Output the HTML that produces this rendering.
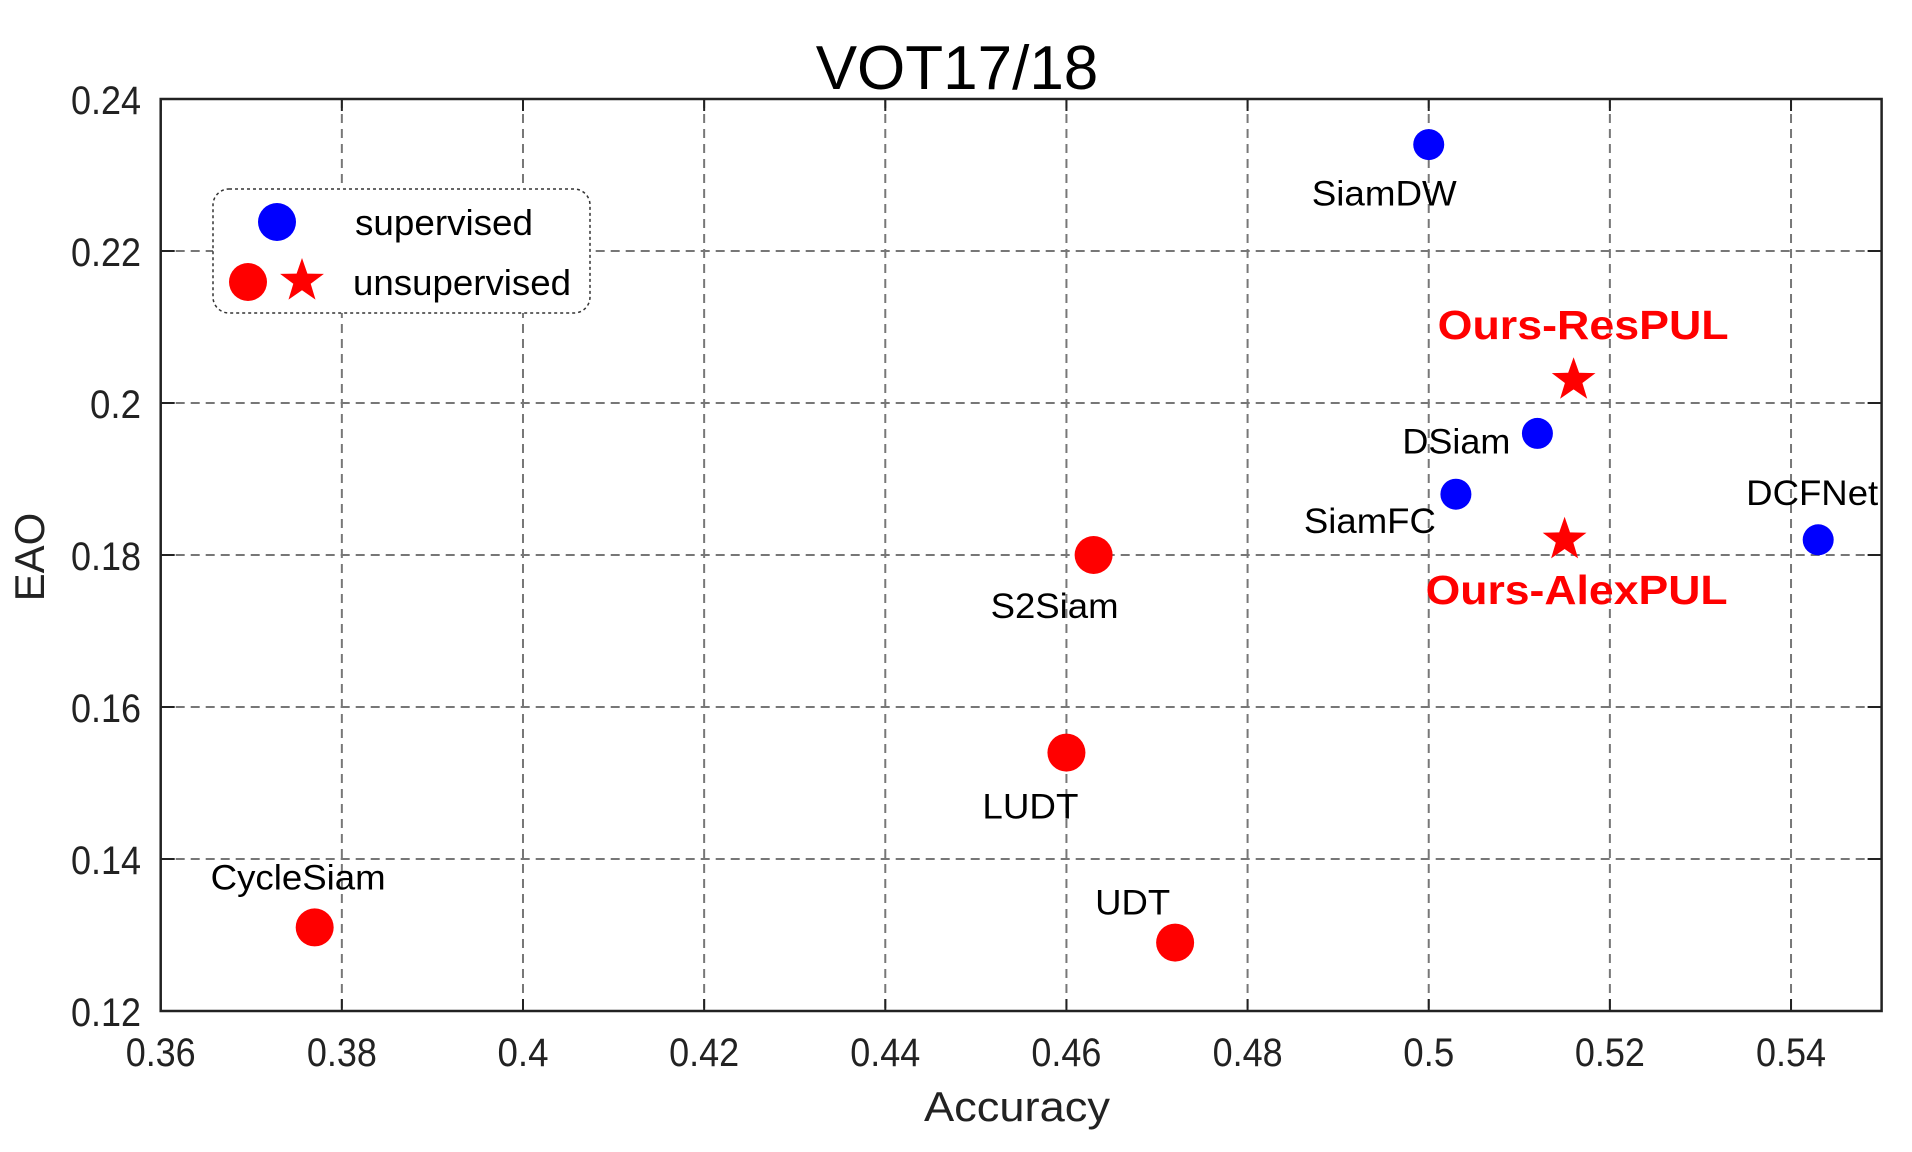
<!DOCTYPE html>
<html><head><meta charset="utf-8"><style>
html,body{margin:0;padding:0;background:#fff;}
svg{display:block;font-family:"Liberation Sans",Arial,sans-serif;}
</style></head><body>
<svg id="chart" width="1912" height="1152" viewBox="0 0 1912 1152" xmlns="http://www.w3.org/2000/svg">
<rect width="1912" height="1152" fill="#fff"/>
<g id="grid"></g>
<g id="axes"></g>
<g id="marks"></g>
<g id="labels"></g>
<text x="957" y="89" font-size="62" text-anchor="middle" fill="#000">VOT17/18</text>
<text x="1017" y="1121" font-size="42" text-anchor="middle" textLength="186" lengthAdjust="spacingAndGlyphs" fill="#222">Accuracy</text>
<text transform="translate(44,557) rotate(-90)" font-size="42" text-anchor="middle" fill="#222">EAO</text>
<g>
  <rect x="213" y="189" width="377" height="124" rx="16" fill="#fff" stroke="#333" stroke-width="1.5" stroke-dasharray="3,3"/>
  <ellipse cx="277" cy="222" rx="19" ry="19" fill="#0000ff"/>
  <text x="355" y="235" font-size="36" textLength="178" lengthAdjust="spacingAndGlyphs">supervised</text>
  <ellipse cx="248" cy="282" rx="19" ry="19" fill="#ff0000"/>
  <polygon id="legstar" fill="#ff0000"/>
  <text x="353" y="295" font-size="36" textLength="218" lengthAdjust="spacingAndGlyphs">unsupervised</text>
</g>
</svg>
<script>
const xTicks=[0.36,0.38,0.4,0.42,0.44,0.46,0.48,0.5,0.52,0.54];
const xTickLabels=["0.36","0.38","0.4","0.42","0.44","0.46","0.48","0.5","0.52","0.54"];
const yTicks=[0.12,0.14,0.16,0.18,0.2,0.22,0.24];
const yTickLabels=["0.12","0.14","0.16","0.18","0.2","0.22","0.24"];
const names=["SiamDW","DSiam","SiamFC","DCFNet","Ours-ResPUL","Ours-AlexPUL","S2Siam","LUDT","UDT","CycleSiam"];
const accuracy=[0.500,0.512,0.503,0.543,0.516,0.515,0.463,0.460,0.472,0.377];
const eao=[0.234,0.196,0.188,0.182,0.203,0.182,0.180,0.154,0.129,0.131];
const kinds=["sup","sup","sup","sup","star","star","unsup","unsup","unsup","unsup"];

const X0=160.7,X1=1881.6,Y0=1011,Y1=99;
const xMin=0.36,xMax=0.55,yMin=0.12,yMax=0.24;
function xs(v){return X0+(v-xMin)/(xMax-xMin)*(X1-X0);}
function ys(v){return Y0-(v-yMin)/(yMax-yMin)*(Y0-Y1);}
const NS="http://www.w3.org/2000/svg";
function mk(t,a,p){const e=document.createElementNS(NS,t);for(const k in a)e.setAttribute(k,a[k]);p.appendChild(e);return e;}
function starPts(cx,cy,R){const r=R*0.4;let s=[];for(let i=0;i<10;i++){const rr=i%2?r:R;const a=-Math.PI/2+i*Math.PI/5;s.push((cx+rr*Math.cos(a)).toFixed(1)+","+(cy+rr*Math.sin(a)).toFixed(1));}return s.join(" ");}
document.getElementById('legstar').setAttribute('points',starPts(302,281,23));

const grid=document.getElementById('grid'),axes=document.getElementById('axes'),marks=document.getElementById('marks'),labels=document.getElementById('labels');
xTicks.forEach((v,i)=>{
  const x=xs(v);
  if(i>0){const g=mk('line',{x1:x,y1:Y1,x2:x,y2:Y0,stroke:'#777','stroke-width':2,'stroke-dasharray':'9,6'},grid);
  
  }
  const t=mk('text',{x:x,y:1066,'font-size':40,'text-anchor':'middle',fill:'#222',textLength:19*xTickLabels[i].length-6,lengthAdjust:'spacingAndGlyphs'},axes);
  t.textContent=xTickLabels[i];
  
  
  mk('line',{x1:x,y1:Y0,x2:x,y2:Y0-12,stroke:'#222','stroke-width':2},axes);
  mk('line',{x1:x,y1:Y1,x2:x,y2:Y1+12,stroke:'#222','stroke-width':2},axes);
});
yTicks.forEach((v,i)=>{
  const y=ys(v);
  if(i>0&&i<yTicks.length-1){const g=mk('line',{x1:X0,y1:y,x2:X1,y2:y,stroke:'#777','stroke-width':2,'stroke-dasharray':'9,6'},grid);
  
  }
  const t=mk('text',{x:141,y:y+15,'font-size':40,'text-anchor':'end',fill:'#222',textLength:19*yTickLabels[i].length-6,lengthAdjust:'spacingAndGlyphs'},axes);
  t.textContent=yTickLabels[i];
  
  
  mk('line',{x1:X0,y1:y,x2:X0+14,y2:y,stroke:'#222','stroke-width':2},axes);
  mk('line',{x1:X1,y1:y,x2:X1-14,y2:y,stroke:'#222','stroke-width':2},axes);
});
const frame=mk('rect',{x:X0,y:Y1,width:X1-X0,height:Y0-Y1,fill:'none',stroke:'#222','stroke-width':2.5},axes);



const labelDX=[-117,-135,-152,-72,-136,-139,-103,-84,-80,-104];
const labelDY=[61,20,39,-35,-41,64,63,66,-28,-38];
const labelW=[145,108,132,132,291,302,128,96,75,175];
names.forEach((n,i)=>{
  const cx=xs(accuracy[i]),cy=ys(eao[i]);
  let m;
  if(kinds[i]==='star'){m=mk('polygon',{points:starPts(cx,cy,23),fill:'#ff0000'},marks);}
  else if(kinds[i]==='sup'){m=mk('circle',{cx:cx,cy:cy,r:15.5,fill:'#0000ff'},marks);}
  else{m=mk('circle',{cx:cx,cy:cy,r:19,fill:'#ff0000'},marks);}
  
  
  const star=kinds[i]==='star';
  const t=mk('text',{x:cx+labelDX[i],y:cy+labelDY[i],'font-size':star?41:35,'font-weight':star?'bold':'normal',fill:star?'#ff0000':'#000',textLength:labelW[i],lengthAdjust:'spacingAndGlyphs'},labels);
  t.textContent=n;
  
  
});
</script>
</body></html>
